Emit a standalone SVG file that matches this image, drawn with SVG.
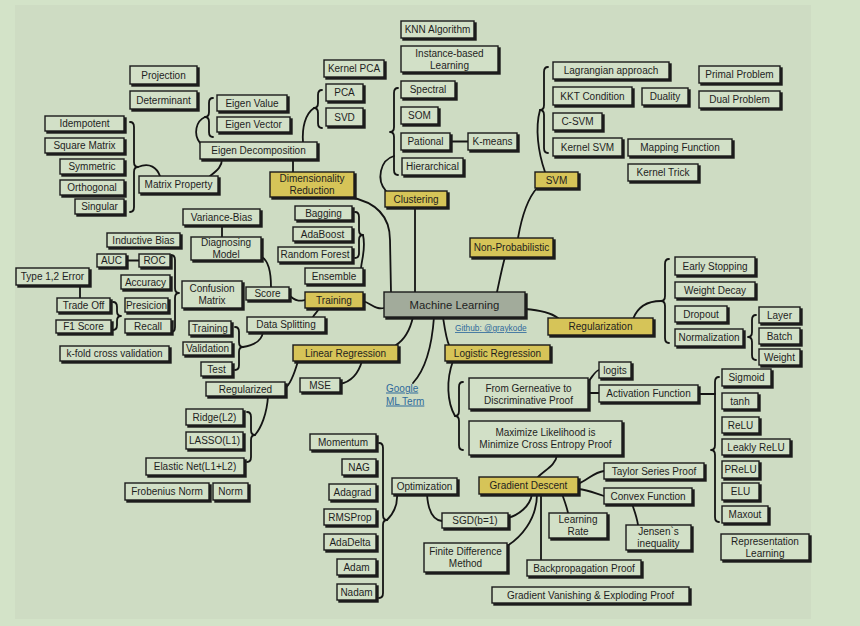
<svg xmlns="http://www.w3.org/2000/svg" width="860" height="626" viewBox="0 0 860 626">
  <defs>
    <filter id="sh" x="-0.2" y="-0.3" width="1.5" height="1.8">
      <feOffset in="SourceAlpha" dx="2" dy="2" result="o"/>
      <feFlood flood-color="#1a1a1a"/>
      <feComposite in2="o" operator="in" result="s"/>
      <feMerge><feMergeNode in="s"/><feMergeNode in="SourceGraphic"/></feMerge>
    </filter>
    <style>
      rect.b { fill: #d2e0c7; stroke: #1a1a1a; stroke-width: 1.4; filter: url(#sh); }
      rect.y { fill: #d6c458; stroke: #1a1a1a; stroke-width: 1.4; filter: url(#sh); }
      rect.c { fill: #a2ab9b; stroke: #1a1a1a; stroke-width: 1.4; filter: url(#sh); }
      text { font-family: "Liberation Sans", Arial, sans-serif; font-size: 10px; fill: #1e1e1e; text-anchor: middle; }
      text.big { font-size: 11.3px; }
      text.link { fill: #2f6a9c; text-decoration: underline; text-anchor: start; }
      #edges path { fill: none; stroke: #141414; stroke-width: 1.8; stroke-linecap: round; stroke-linejoin: round; }
    </style>
  </defs>

  <!-- canvas -->
  <rect x="0" y="0" width="860" height="626" fill="#d3e3c8"/>
  <rect x="15" y="5" width="796" height="614" fill="#cedcc3"/>

  <!-- connectors and braces -->
  <g id="edges">
    <!-- matrix properties -->
    <path d="M130,122 Q134,122 134,127 L134,162 Q134,167 138,167 Q134,167 134,172 L134,207 Q134,212 130,212"/>
    <path d="M138,167 C150,162 157,168 160,176"/>
    <path d="M210,176 C218,170 222,166 222,159"/>
    <!-- eigen -->
    <path d="M213,98 Q209,98 209,103 L209,112 Q209,117 205,117 Q209,117 209,122 L209,132 Q209,137 213,137"/>
    <path d="M200,143 C193,134 196,121 205,117"/>
    <path d="M322,90 Q318,90 318,95 L318,103 Q318,108 314,108 Q318,108 318,113 L318,123 Q318,128 322,128"/>
    <path d="M303,142 C302,128 305,114 314,108"/>
    <path d="M293,159 V172"/>
    <path d="M350,197 C375,202 390,215 390,240 L391,292"/>
    <!-- clustering -->
    <path d="M398,88 Q394,88 394,93 L394,127 Q394,132 390,132 Q394,132 394,137 L394,170 Q394,175 398,175"/>
    <path d="M386,191 C376,180 380,160 394,156"/>
    <path d="M450,141.5 H468"/>
    <path d="M415,207 V292"/>
    <!-- svm -->
    <path d="M548,67 Q544,67 544,72 L544,105 Q544,110 540,110 Q544,110 544,115 L544,148 Q544,153 548,153"/>
    <path d="M545,172 C538,152 535,128 540,110"/>
    <path d="M497,292 C500,278 502,268 505,257"/>
    <path d="M518,238 C522,215 528,198 537,188"/>
    <!-- regularization -->
    <path d="M525,309 C538,310 550,312 558,318"/>
    <path d="M669,259 Q665,259 665,264 L665,296 Q665,301 661,301 Q665,301 665,306 L665,338 Q665,343 669,343"/>
    <path d="M633,319 C638,306 648,301 661,301"/>
    <path d="M756,315 Q752,315 752,320 L752,332 Q752,337 748,337 Q752,337 752,342 L752,355 Q752,360 756,360"/>
    <!-- training -->
    <path d="M355,212 Q359,212 359,217 L359,230 Q359,235 363,235 Q359,235 359,240 L359,253 Q359,258 355,258"/>
    <path d="M363,235 C366,248 362,258 361,268"/>
    <path d="M363,301 C372,304 376,310 384,308"/>
    <path d="M289,295 C296,302 300,301 305,300"/>
    <path d="M319,308 C318,312 314,314 313,317"/>
    <path d="M222,225 V237"/>
    <path d="M262,257 C270,262 271,275 271,287"/>
    <path d="M171,255 Q175,255 175,260 L175,288 Q175,293 179,293 Q175,293 175,298 L175,327 Q175,332 171,332"/>
    <path d="M113,302 Q117,302 117,307 L117,311 Q117,316 121,316 Q117,316 117,321 L117,325 Q117,330 113,330"/>
    <path d="M126,260.5 H139"/>
    <path d="M80,285 V298"/>
    <path d="M235,327 Q239,327 239,332 L239,342 Q239,347 243,347 Q239,347 239,352 L239,365 Q239,370 235,370"/>
    <path d="M243,347 C256,345 262,340 263,332"/>
    <!-- linear regression -->
    <path d="M413,317 C410,330 404,340 396,345"/>
    <path d="M298,361 C294,375 290,385 285,388"/>
    <path d="M362,361 C358,375 350,382 340,384"/>
    <path d="M247,412 Q251,412 251,417 L251,430 Q251,435 255,435 Q251,435 251,440 L251,457 Q251,462 247,462"/>
    <path d="M268,396 C267,414 261,428 255,435"/>
    <path d="M434,317 C432,345 425,370 413,383"/>
    <!-- logistic regression -->
    <path d="M443,317 C445,330 446,338 449,345"/>
    <path d="M463,382 Q459,382 459,387 L459,411 Q459,416 455,416 Q459,416 459,421 L459,445 Q459,450 463,450"/>
    <path d="M453,361 C446,380 447,402 455,416"/>
    <path d="M588,393 H599"/>
    <path d="M588,382 C593,376 595,371 599,370"/>
    <path d="M698,394 H715"/>
    <path d="M719,377 Q715,377 715,382 L715,445 Q715,450 711,450 Q715,450 715,455 L715,517 Q715,522 719,522"/>
    <path d="M557,455 C556,465 545,470 538,477"/>
    <!-- gradient descent -->
    <path d="M578,484 C588,480 594,472 604,471"/>
    <path d="M578,489 C590,490 596,494 604,496"/>
    <path d="M632,504 C635,512 637,518 638,525"/>
    <path d="M532,494 C530,507 518,515 508,518"/>
    <path d="M537,494 C537,520 520,538 507,546"/>
    <path d="M541,494 V560"/>
    <path d="M562,494 C565,502 567,508 568,513"/>
    <path d="M427,494 C428,510 432,520 442,521"/>
    <path d="M379,443 Q383,443 383,448 L383,515 Q383,520 387,520 Q383,520 383,525 L383,593 Q383,598 379,598"/>
    <path d="M397,494 C398,507 392,515 387,520"/>
  </g>

  <!-- dimensionality reduction branch -->
  <g id="n-projection"><rect class="b" x="130" y="66" width="67" height="18"/><text x="163.5" y="78.5">Projection</text></g>
  <g id="n-determinant"><rect class="b" x="130" y="91" width="67" height="18"/><text x="163.5" y="103.5">Determinant</text></g>
  <g id="n-idempotent"><rect class="b" x="45" y="116" width="79" height="15"/><text x="84.5" y="127">Idempotent</text></g>
  <g id="n-square"><rect class="b" x="45" y="138" width="79" height="15"/><text x="84.5" y="149">Square Matrix</text></g>
  <g id="n-symmetric"><rect class="b" x="60" y="159" width="64" height="15"/><text x="92" y="170">Symmetric</text></g>
  <g id="n-orthogonal"><rect class="b" x="60" y="180" width="64" height="15"/><text x="92" y="191">Orthogonal</text></g>
  <g id="n-singular"><rect class="b" x="75" y="199" width="49" height="15"/><text x="99.5" y="210">Singular</text></g>
  <g id="n-matrix-property"><rect class="b" x="139" y="176" width="79" height="17"/><text x="178.5" y="188">Matrix Property</text></g>
  <g id="n-eigen-value"><rect class="b" x="217" y="95" width="70" height="16"/><text x="252" y="106.5">Eigen Value</text></g>
  <g id="n-eigen-vector"><rect class="b" x="217" y="117" width="73" height="15"/><text x="253.5" y="128">Eigen Vector</text></g>
  <g id="n-eigen-decomposition"><rect class="b" x="200" y="142" width="117" height="17"/><text x="258.5" y="154">Eigen Decomposition</text></g>
  <g id="n-dim-reduction"><rect class="y" x="270" y="172" width="84" height="25"/><text x="312" y="182">Dimensionality</text><text x="312" y="194">Reduction</text></g>
  <g id="n-kernel-pca"><rect class="b" x="324" y="60" width="60" height="17"/><text x="354" y="72">Kernel PCA</text></g>
  <g id="n-pca"><rect class="b" x="326" y="84" width="37" height="17"/><text x="344.5" y="96">PCA</text></g>
  <g id="n-svd"><rect class="b" x="326" y="108" width="37" height="18"/><text x="344.5" y="120.5">SVD</text></g>

  <!-- clustering branch -->
  <g id="n-knn"><rect class="b" x="401" y="21" width="73" height="17"/><text x="437.5" y="33">KNN Algorithm</text></g>
  <g id="n-instance"><rect class="b" x="401" y="46" width="97" height="26"/><text x="449.5" y="56.5">Instance-based</text><text x="449.5" y="68.5">Learning</text></g>
  <g id="n-spectral"><rect class="b" x="401" y="81" width="54" height="17"/><text x="428" y="93">Spectral</text></g>
  <g id="n-som"><rect class="b" x="401" y="107" width="37" height="17"/><text x="419.5" y="119">SOM</text></g>
  <g id="n-pational"><rect class="b" x="401" y="133" width="49" height="17"/><text x="425.5" y="145">Pational</text></g>
  <g id="n-kmeans"><rect class="b" x="468" y="133" width="49" height="17"/><text x="492.5" y="145">K-means</text></g>
  <g id="n-hierarchical"><rect class="b" x="402" y="158" width="61" height="17"/><text x="432.5" y="170">Hierarchical</text></g>
  <g id="n-clustering"><rect class="y" x="385" y="191" width="62" height="16"/><text x="416" y="202.5">Clustering</text></g>

  <!-- svm branch -->
  <g id="n-lagrangian"><rect class="b" x="553" y="62" width="116" height="17"/><text x="611" y="74">Lagrangian approach</text></g>
  <g id="n-kkt"><rect class="b" x="553" y="87" width="79" height="18"/><text x="592.5" y="99.5">KKT Condition</text></g>
  <g id="n-duality"><rect class="b" x="642" y="88" width="46" height="17"/><text x="665" y="100">Duality</text></g>
  <g id="n-primal"><rect class="b" x="699" y="66" width="81" height="17"/><text x="739.5" y="78">Primal Problem</text></g>
  <g id="n-dual"><rect class="b" x="699" y="91" width="81" height="17"/><text x="739.5" y="103">Dual Problem</text></g>
  <g id="n-csvm"><rect class="b" x="553" y="113" width="49" height="17"/><text x="577.5" y="125">C-SVM</text></g>
  <g id="n-kernel-svm"><rect class="b" x="553" y="138" width="69" height="18"/><text x="587.5" y="150.5">Kernel SVM</text></g>
  <g id="n-mapping"><rect class="b" x="628" y="139" width="104" height="17"/><text x="680" y="151">Mapping Function</text></g>
  <g id="n-kernel-trick"><rect class="b" x="628" y="164" width="70" height="17"/><text x="663" y="176">Kernel Trick</text></g>
  <g id="n-svm"><rect class="y" x="535" y="172" width="43" height="16"/><text x="556.5" y="183.5">SVM</text></g>
  <g id="n-non-prob"><rect class="y" x="470" y="238" width="83" height="19"/><text x="511.5" y="251">Non-Probabilistic</text></g>

  <!-- root -->
  <g id="n-machine-learning"><rect class="c" x="384" y="292" width="141" height="25"/><text class="big" x="454.5" y="308.5">Machine Learning</text></g>
  <g id="n-github"><text class="link" x="455" y="331" style="font-size:8.3px">Github: @graykode</text></g>
  <g id="n-google"><text class="link" x="386" y="391.5">Google</text><text class="link" x="386" y="404.5">ML Term</text></g>

  <!-- regularization branch -->
  <g id="n-regularization"><rect class="y" x="548" y="318" width="105" height="17"/><text x="600.5" y="330">Regularization</text></g>
  <g id="n-early-stopping"><rect class="b" x="675" y="257" width="80" height="18"/><text x="715" y="269.5">Early Stopping</text></g>
  <g id="n-weight-decay"><rect class="b" x="675" y="282" width="80" height="16"/><text x="715" y="293.5">Weight Decay</text></g>
  <g id="n-dropout"><rect class="b" x="675" y="306" width="52" height="16"/><text x="701" y="317.5">Dropout</text></g>
  <g id="n-normalization"><rect class="b" x="675" y="329" width="68" height="17"/><text x="709" y="341">Normalization</text></g>
  <g id="n-layer"><rect class="b" x="759" y="307" width="41" height="16"/><text x="779.5" y="318.5">Layer</text></g>
  <g id="n-batch"><rect class="b" x="759" y="328" width="41" height="16"/><text x="779.5" y="339.5">Batch</text></g>
  <g id="n-weight"><rect class="b" x="759" y="349" width="41" height="16"/><text x="779.5" y="360.5">Weight</text></g>

  <!-- training branch -->
  <g id="n-variance-bias"><rect class="b" x="183" y="209" width="77" height="16"/><text x="221.5" y="220.5">Variance-Bias</text></g>
  <g id="n-diagnosing"><rect class="b" x="191" y="237" width="70" height="23"/><text x="226" y="246">Diagnosing</text><text x="226" y="258">Model</text></g>
  <g id="n-inductive-bias"><rect class="b" x="107" y="233" width="73" height="14"/><text x="143.5" y="243.5">Inductive Bias</text></g>
  <g id="n-auc"><rect class="b" x="97" y="254" width="29" height="13"/><text x="111.5" y="264">AUC</text></g>
  <g id="n-roc"><rect class="b" x="139" y="254" width="31" height="13"/><text x="154.5" y="264">ROC</text></g>
  <g id="n-type-error"><rect class="b" x="16" y="268" width="73" height="17"/><text x="52.5" y="280">Type 1,2 Error</text></g>
  <g id="n-accuracy"><rect class="b" x="121" y="275" width="49" height="14"/><text x="145.5" y="285.5">Accuracy</text></g>
  <g id="n-confusion"><rect class="b" x="182" y="281" width="60" height="27"/><text x="212" y="292">Confusion</text><text x="212" y="304">Matrix</text></g>
  <g id="n-score"><rect class="b" x="246" y="287" width="43" height="13"/><text x="267.5" y="297">Score</text></g>
  <g id="n-trade-off"><rect class="b" x="57" y="298" width="53" height="14"/><text x="83.5" y="308.5">Trade Off</text></g>
  <g id="n-presicion"><rect class="b" x="125" y="298" width="43" height="14"/><text x="146.5" y="308.5">Presicion</text></g>
  <g id="n-f1"><rect class="b" x="56" y="320" width="55" height="13"/><text x="83.5" y="330">F1 Score</text></g>
  <g id="n-recall"><rect class="b" x="125" y="319" width="46" height="14"/><text x="148" y="329.5">Recall</text></g>
  <g id="n-training-set"><rect class="b" x="189" y="321" width="42" height="14"/><text x="210" y="331.5">Training</text></g>
  <g id="n-validation"><rect class="b" x="183" y="342" width="49" height="13"/><text x="207.5" y="352">Validation</text></g>
  <g id="n-test"><rect class="b" x="201" y="362" width="31" height="14"/><text x="216.5" y="372.5">Test</text></g>
  <g id="n-data-splitting"><rect class="b" x="247" y="317" width="78" height="15"/><text x="286" y="328">Data Splitting</text></g>
  <g id="n-kfold"><rect class="b" x="60" y="346" width="109" height="15"/><text x="114.5" y="357">k-fold cross validation</text></g>
  <g id="n-bagging"><rect class="b" x="295" y="206" width="57" height="14"/><text x="323.5" y="216.5">Bagging</text></g>
  <g id="n-adaboost"><rect class="b" x="293" y="227" width="59" height="14"/><text x="322.5" y="237.5">AdaBoost</text></g>
  <g id="n-random-forest"><rect class="b" x="278" y="247" width="74" height="15"/><text x="315" y="258">Random Forest</text></g>
  <g id="n-ensemble"><rect class="b" x="305" y="268" width="58" height="16"/><text x="334" y="279.5">Ensemble</text></g>
  <g id="n-training"><rect class="y" x="305" y="292" width="58" height="16"/><text x="334" y="303.5">Training</text></g>

  <!-- linear regression branch -->
  <g id="n-linear-regression"><rect class="y" x="293" y="345" width="105" height="16"/><text x="345.5" y="356.5">Linear Regression</text></g>
  <g id="n-mse"><rect class="b" x="300" y="378" width="40" height="14"/><text x="320" y="388.5">MSE</text></g>
  <g id="n-regularized"><rect class="b" x="206" y="382" width="79" height="14"/><text x="245.5" y="392.5">Regularized</text></g>
  <g id="n-ridge"><rect class="b" x="186" y="409" width="57" height="16"/><text x="214.5" y="420.5">Ridge(L2)</text></g>
  <g id="n-lasso"><rect class="b" x="186" y="432" width="57" height="17"/><text x="214.5" y="444">LASSO(L1)</text></g>
  <g id="n-elastic"><rect class="b" x="146" y="458" width="98" height="17"/><text x="195" y="470">Elastic Net(L1+L2)</text></g>
  <g id="n-frobenius"><rect class="b" x="125" y="483" width="84" height="17"/><text x="167" y="495">Frobenius Norm</text></g>
  <g id="n-norm"><rect class="b" x="213" y="483" width="35" height="17"/><text x="230.5" y="495">Norm</text></g>

  <!-- logistic regression branch -->
  <g id="n-logistic-regression"><rect class="y" x="445" y="345" width="105" height="16"/><text x="497.5" y="356.5">Logistic Regression</text></g>
  <g id="n-generative"><rect class="b" x="469" y="378" width="119" height="31"/><text x="528.5" y="391.5">From Gerneative to</text><text x="528.5" y="404">Discriminative Proof</text></g>
  <g id="n-logits"><rect class="b" x="599" y="362" width="32" height="16"/><text x="615" y="373.5">logits</text></g>
  <g id="n-activation"><rect class="b" x="599" y="385" width="99" height="17"/><text x="648.5" y="397">Activation Function</text></g>
  <g id="n-max-likelihood"><rect class="b" x="469" y="421" width="153" height="34"/><text x="545.5" y="435.5">Maximize Likelihood is</text><text x="545.5" y="447.5">Minimize Cross Entropy Proof</text></g>
  <g id="n-sigmoid"><rect class="b" x="722" y="369" width="49" height="17"/><text x="746.5" y="381">Sigmoid</text></g>
  <g id="n-tanh"><rect class="b" x="722" y="393" width="36" height="16"/><text x="740" y="404.5">tanh</text></g>
  <g id="n-relu"><rect class="b" x="722" y="417" width="37" height="16"/><text x="740.5" y="428.5">ReLU</text></g>
  <g id="n-leaky-relu"><rect class="b" x="722" y="439" width="68" height="16"/><text x="756" y="450.5">Leakly ReLU</text></g>
  <g id="n-prelu"><rect class="b" x="722" y="461" width="37" height="17"/><text x="740.5" y="473">PReLU</text></g>
  <g id="n-elu"><rect class="b" x="722" y="483" width="37" height="17"/><text x="740.5" y="495">ELU</text></g>
  <g id="n-maxout"><rect class="b" x="722" y="506" width="46" height="17"/><text x="745" y="518">Maxout</text></g>
  <g id="n-representation"><rect class="b" x="721" y="534" width="88" height="26"/><text x="765" y="544.5">Representation</text><text x="765" y="556.5">Learning</text></g>

  <!-- gradient descent branch -->
  <g id="n-gradient-descent"><rect class="y" x="479" y="477" width="99" height="17"/><text x="528.5" y="489">Gradient Descent</text></g>
  <g id="n-taylor"><rect class="b" x="604" y="463" width="100" height="16"/><text x="654" y="474.5">Taylor Series Proof</text></g>
  <g id="n-convex"><rect class="b" x="604" y="488" width="88" height="16"/><text x="648" y="499.5">Convex Function</text></g>
  <g id="n-jensen"><rect class="b" x="626" y="525" width="65" height="25"/><text x="658.5" y="535">Jensen`s</text><text x="658.5" y="547">inequality</text></g>
  <g id="n-learning-rate"><rect class="b" x="549" y="513" width="58" height="25"/><text x="578" y="523">Learning</text><text x="578" y="535">Rate</text></g>
  <g id="n-backprop"><rect class="b" x="527" y="560" width="114" height="16"/><text x="584" y="571.5">Backpropagation Proof</text></g>
  <g id="n-vanishing"><rect class="b" x="492" y="587" width="197" height="16"/><text x="590.5" y="598.5">Gradient Vanishing &amp; Exploding Proof</text></g>
  <g id="n-optimization"><rect class="b" x="392" y="478" width="65" height="16"/><text x="424.5" y="489.5">Optimization</text></g>
  <g id="n-sgd"><rect class="b" x="442" y="513" width="66" height="15"/><text x="475" y="524">SGD(b=1)</text></g>
  <g id="n-finite-diff"><rect class="b" x="424" y="543" width="83" height="29"/><text x="465.5" y="555">Finite Difference</text><text x="465.5" y="567">Method</text></g>
  <g id="n-momentum"><rect class="b" x="310" y="434" width="66" height="16"/><text x="343" y="445.5">Momentum</text></g>
  <g id="n-nag"><rect class="b" x="342" y="459" width="34" height="16"/><text x="359" y="470.5">NAG</text></g>
  <g id="n-adagrad"><rect class="b" x="329" y="484" width="47" height="16"/><text x="352.5" y="495.5">Adagrad</text></g>
  <g id="n-rmsprop"><rect class="b" x="324" y="509" width="52" height="16"/><text x="350" y="520.5">RMSProp</text></g>
  <g id="n-adadelta"><rect class="b" x="324" y="534" width="52" height="16"/><text x="350" y="545.5">AdaDelta</text></g>
  <g id="n-adam"><rect class="b" x="337" y="559" width="39" height="16"/><text x="356.5" y="570.5">Adam</text></g>
  <g id="n-nadam"><rect class="b" x="337" y="584" width="39" height="16"/><text x="356.5" y="595.5">Nadam</text></g>
</svg>
